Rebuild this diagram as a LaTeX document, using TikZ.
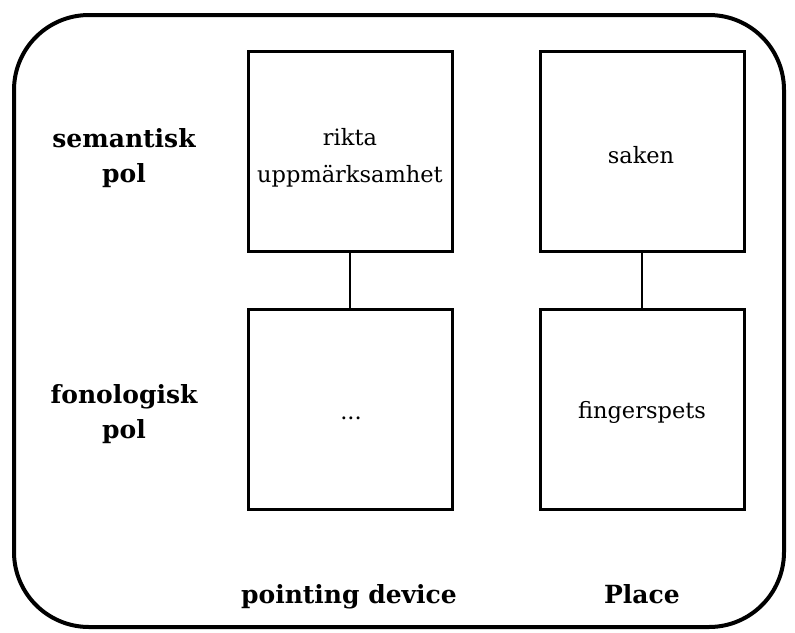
\documentclass[tikz,border=0pt]{standalone}
\usepackage{fontspec}
\setmainfont{DejaVu Serif}
\begin{document}
\begin{tikzpicture}[x=1pt,y=-1pt,
  outer/.style={draw,line width=4pt,rounded corners=75pt},
  cell/.style={draw,line width=3pt,minimum width=204pt,minimum height=200pt,inner sep=0pt},
  txt/.style={anchor=base,align=center,inner sep=0pt,font=\fontsize{22.5}{37}\selectfont},
  lab/.style={anchor=base,align=center,inner sep=0pt,font=\fontsize{25}{35}\selectfont\bfseries},
  link/.style={line width=2pt}]
\useasboundingbox (0,0) rectangle (795,632);
\draw[outer] (14,15) rectangle (784,627);
\node[cell] (a) at (350,151) {};
\node[cell] (b) at (642,151) {};
\node[cell] (c) at (350,409) {};
\node[cell] (d) at (642,409) {};
\draw[link] (a.south) -- (c.north);
\draw[link] (b.south) -- (d.north);
\node[txt] (ta) at (350,182) {rikta\\uppmärksamhet};
\node[txt] (tb) at (641,163) {saken};
\node[txt] (tc) at (351,419) {...};
\node[txt] (td) at (642,418) {fingerspets};
\node[lab] (l1) at (124,182) {semantisk\\pol};
\node[lab] (l2) at (124,438) {fonologisk\\pol};
\node[lab] (l3) at (349,603) {pointing device};
\node[lab] (l4) at (642,603) {Place};
\end{tikzpicture}
\end{document}
